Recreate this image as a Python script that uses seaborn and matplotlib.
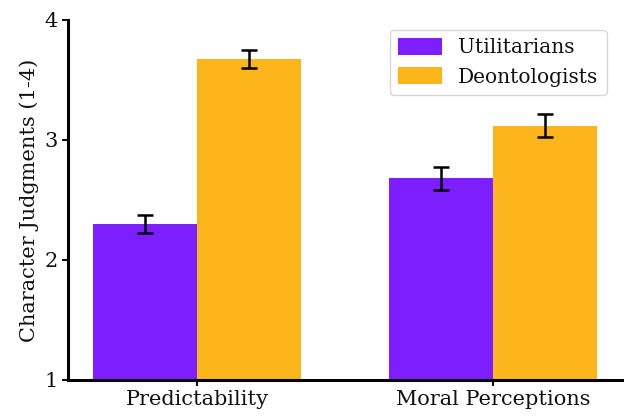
import matplotlib
matplotlib.use('Agg')
import matplotlib.pyplot as plt
import seaborn as sns
import pandas as pd

categories = ['Predictability', 'Moral Perceptions']
groups = ['Utilitarians', 'Deontologists']
util_means = [2.30, 2.68]
deont_means = [3.675, 3.12]
util_err = [0.072, 0.098]
deont_err = [0.074, 0.099]

df = pd.DataFrame({
    'category': categories * 2,
    'group': [groups[0]] * 2 + [groups[1]] * 2,
    'value': util_means + deont_means,
    'err': util_err + deont_err,
})

sns.set_style('white')
plt.rcParams['font.family'] = ['DejaVu Serif']
plt.rcParams['text.color'] = '#111111'
plt.rcParams['axes.labelcolor'] = '#111111'
plt.rcParams['xtick.color'] = '#111111'
plt.rcParams['ytick.color'] = '#111111'

fig = plt.figure(figsize=(6.24, 4.16), dpi=100)
ax = fig.add_axes([0.109, 0.087, 0.888, 0.865])

colors = ['#7D1EFE', '#FDB51C']
# bars start at 0, the y range below 1 is simply cut off
sns.barplot(data=df, x='category', y='value', hue='group', palette=colors,
            saturation=1, linewidth=0, width=0.7, gap=0, errorbar=None, ax=ax)

for cont, (_, sub) in zip(ax.containers, df.groupby('group', sort=False)):
    xs = [b.get_x() + b.get_width() / 2 for b in cont]
    ax.errorbar(xs, sub['value'], yerr=sub['err'], fmt='none', ecolor='black',
                elinewidth=1.8, capsize=6, capthick=1.8)

ax.set_ylim(1, 4)
ax.set_yticks([1, 2, 3, 4])
ax.set_xlim(-0.436, 1.436)
ax.set_xlabel('')
ax.set_ylabel('Character Judgments (1-4)', fontsize=15)
ax.tick_params(axis='both', labelsize=15, length=4, width=1.5, left=True, bottom=True)
for side in ['top', 'right']:
    ax.spines[side].set_visible(False)
for side in ['left', 'bottom']:
    ax.spines[side].set_linewidth(2.2)
    ax.spines[side].set_color('black')

ax.legend(loc='upper right', fontsize=14.5, title=None, frameon=True,
          handlelength=2.2, handleheight=0.9, bbox_to_anchor=(0.99, 1.0))

fig.savefig('out.png', dpi=100)
